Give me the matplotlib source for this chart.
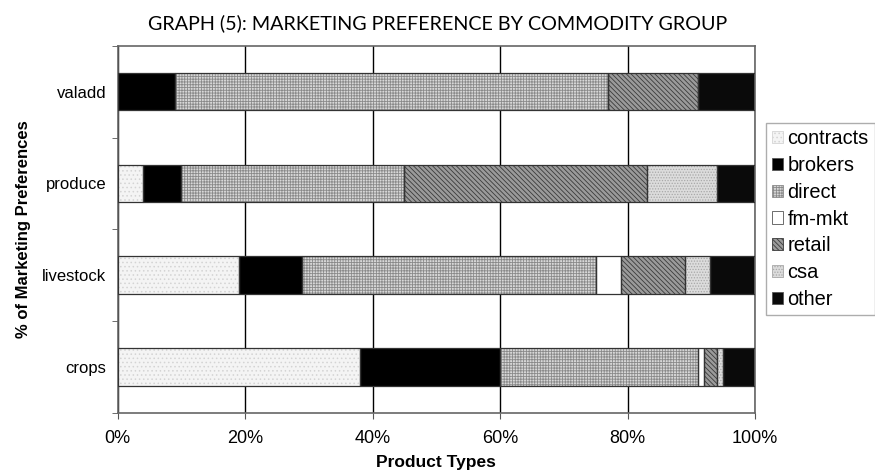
import numpy as np
import matplotlib.pyplot as plt
from matplotlib.patches import Patch

plt.rcParams["font.family"] = ["Liberation Sans", "DejaVu Sans"]
plt.rcParams["hatch.linewidth"] = 0.6

# commodity groups, bottom to top
groups = ["crops", "livestock", "produce", "valadd"]
prefs = ["contracts", "brokers", "direct", "fm-mkt", "retail", "csa", "other"]

# percent of each group choosing each outlet (rows follow `groups`)
contracts = [38, 19, 4, 0]
brokers = [22, 10, 6, 9]
direct = [31, 46, 35, 68]
fm_mkt = [1, 4, 0, 0]
retail = [2, 10, 38, 14]
csa = [1, 4, 11, 0]
other = [5, 7, 6, 9]
series = [contracts, brokers, direct, fm_mkt, retail, csa, other]

# (face, hatch, hatch colour) for the black & white print look
styles = [
    ("#f4f4f4", "....", "#d4d4d4"),
    ("#000000", "", "#000000"),
    ("#d8d8d8", "++++++", "#8a8a8a"),
    ("#ffffff", "", "#ffffff"),
    ("#9a9a9a", "\\\\\\\\\\\\\\", "#3a3a3a"),
    ("#dcdcdc", "......", "#a8a8a8"),
    ("#0a0a0a", "", "#0a0a0a"),
]

fig = plt.figure(figsize=(8.75, 4.72), dpi=100)
ax = fig.add_axes([0.1343, 0.125, 0.7286, 0.7782])

y = np.arange(len(groups))
h = 0.41
left = np.zeros(len(groups))
for vals, (fc, hatch, hc) in zip(series, styles):
    vals = np.array(vals, dtype=float) / 100
    ax.barh(y, vals, height=h, left=left, color=fc, hatch=hatch,
            edgecolor=hc, linewidth=0, zorder=2)
    ax.barh(y, vals, height=h, left=left, fill=False,
            edgecolor="#333333", linewidth=0.9, zorder=3)
    left += vals

ax.set_xlim(0, 1)
ax.set_ylim(-0.5, len(groups) - 0.5)
ax.set_xticks(np.linspace(0, 1, 6))
ax.set_xticklabels([f"{int(v)}%" for v in np.linspace(0, 100, 6)], fontsize=13)
ax.set_yticks(y)
ax.set_yticklabels(groups, fontsize=12)
ax.set_yticks(np.arange(-0.5, len(groups), 1), minor=True)
ax.tick_params(axis="y", which="major", length=0, pad=8)
ax.tick_params(axis="y", which="minor", length=4, color="#555555")
ax.tick_params(axis="x", length=4, color="#555555", pad=8)

ax.grid(axis="x", color="black", linewidth=1.0, zorder=0)
ax.set_axisbelow(True)
for s in ax.spines.values():
    s.set_color("#666666")
    s.set_linewidth(1.2)

ax.set_xlabel("Product Types", fontsize=12.5, fontweight="bold", labelpad=6)
ax.set_ylabel("% of Marketing Preferences", fontsize=12, fontweight="bold",
              labelpad=8)

fig.text(0.5, 0.951, "GRAPH (5): MARKETING PREFERENCE BY COMMODITY GROUP",
         ha="center", va="center", fontsize=14.2, family="Lato")

handles = [Patch(facecolor=fc, hatch=hatch, edgecolor=hc if hatch else "#555555",
                 linewidth=0.6) for fc, hatch, hc in styles]
fig.legend(handles, prefs, loc="upper left", bbox_to_anchor=(0.875, 0.739),
           prop={"size": 14.4},
           frameon=True, fancybox=False, edgecolor="#999999",
           handlelength=0.55, handleheight=0.55, handletextpad=0.25,
           labelspacing=0.39, borderpad=0.3, borderaxespad=0)

fig.savefig("out.png", dpi=100)
